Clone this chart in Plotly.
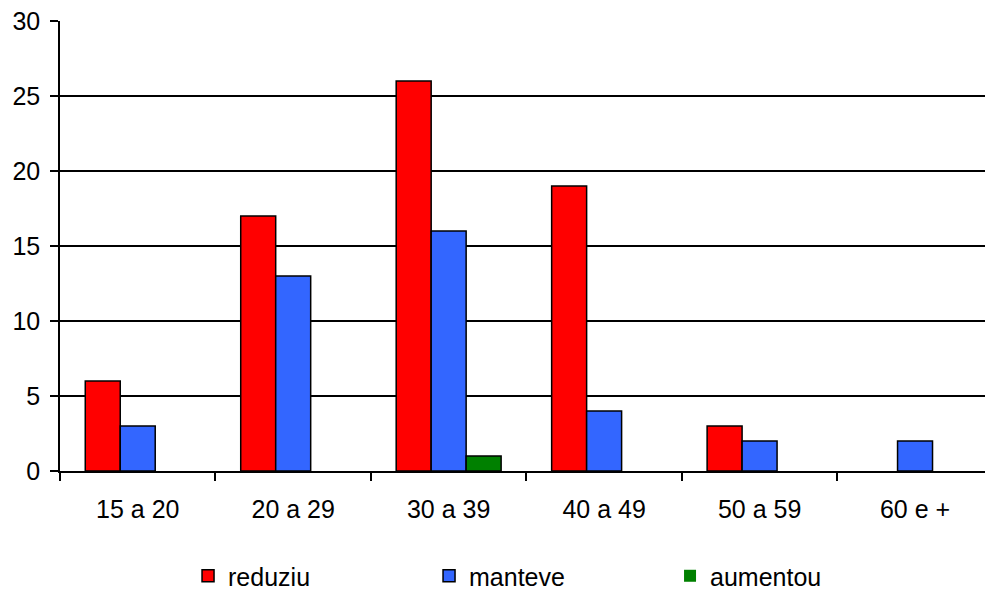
import plotly.graph_objects as go

categories = ["15 a 20", "20 a 29", "30 a 39", "40 a 49", "50 a 59", "60 e +"]
reduziu = [6, 17, 26, 19, 3, 0]
manteve = [3, 13, 16, 4, 2, 2]
aumentou = [0, 0, 1, 0, 0, 0]
series_names = ["reduziu", "manteve", "aumentou"]
colors = ["#FF0000", "#3366FF", "#008000"]
y_ticks = [0, 5, 10, 15, 20, 25, 30]

fig = go.Figure()
for name, vals, col in zip(series_names, [reduziu, manteve, aumentou], colors):
    fig.add_trace(go.Bar(
        x=categories, y=vals, name=name,
        marker=dict(color=col, line=dict(color="black",
                                         width=[1.5 if v > 0 else 0 for v in vals])),
    ))

FONT = "Liberation Sans, Arial, sans-serif"
fig.update_layout(
    width=985, height=590,
    margin=dict(l=60, r=0, t=21, b=119),
    paper_bgcolor="white", plot_bgcolor="white",
    barmode="group", bargap=0.325, bargroupgap=0,
    font=dict(family=FONT, size=25, color="black"),
    showlegend=True,
    legend=dict(
        orientation="h", xref="container", yref="container",
        x=0.1909, xanchor="left", y=0.0237, yanchor="middle",
        font=dict(family=FONT, size=25, color="black"),
        entrywidth=196, entrywidthmode="pixels",
        traceorder="normal",
    ),
    xaxis=dict(
        type="category", range=[-0.5, 5.45], automargin=False,
        showline=True, linecolor="black", linewidth=1.5,
        ticks="outside", tickson="boundaries", ticklen=8, tickwidth=1.5, tickcolor="black",
        showgrid=False, ticklabelstandoff=15,
    ),
    yaxis=dict(
        range=[0, 30], tickvals=y_ticks, automargin=False,
        showline=True, linecolor="black", linewidth=1.5,
        ticks="outside", ticklen=8, tickwidth=1.5, tickcolor="black",
        showgrid=True, gridcolor="black", gridwidth=1.5,
        zeroline=False, ticklabelstandoff=5,
    ),
)

fig.write_html("out.html", config={"displayModeBar": False},
               post_script="document.body.style.margin='0';")
